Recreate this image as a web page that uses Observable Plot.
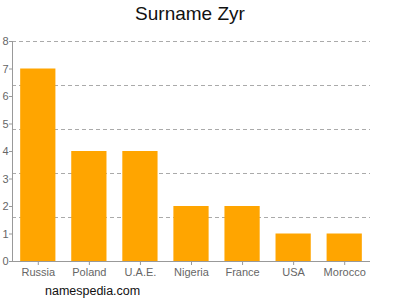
<!DOCTYPE html>
<html>
<head>
<meta charset="utf-8">
<script src="https://cdn.jsdelivr.net/npm/d3@7"></script>
<script src="https://cdn.jsdelivr.net/npm/@observablehq/plot@0.6"></script>
<style>
  html, body { margin: 0; padding: 0; background: #fff; }
  #wrap { position: relative; width: 400px; height: 300px; font-family: "Liberation Sans", Arial, sans-serif; }
  #title { position: absolute; left: 0; width: 380px; top: 3px; text-align: center; font-size: 19px; color: #111; }
  #caption { position: absolute; left: 45px; top: 284px; font-size: 12.5px; color: #111; }
</style>
</head>
<body>
<div id="wrap">
  <div id="chart"></div>
  <div id="title">Surname Zyr</div>
  <div id="caption">namespedia.com</div>
</div>
<script>
const countries = ["Russia", "Poland", "U.A.E.", "Nigeria", "France", "USA", "Morocco"];
const counts = [7, 4, 4, 2, 2, 1, 1];
const yTicks = [0, 1, 2, 3, 4, 5, 6, 7, 8];
const gridLines = [1.6, 3.2, 4.8, 6.4, 8];

const data = countries.map((c, i) => ({country: c, count: counts[i]}));

const chart = Plot.plot({
  width: 400,
  height: 300,
  marginTop: 41,
  marginBottom: 39,
  marginLeft: 12,
  marginRight: 30,
  style: {fontFamily: "Liberation Sans, Arial, sans-serif", fontSize: "11px", color: "#666", background: "#fff"},
  x: {domain: countries, paddingInner: 0.31, paddingOuter: 0.16, round: false, label: null},
  y: {domain: [0, 8], label: null},
  marks: [
    Plot.ruleY(gridLines, {stroke: "#aaa", strokeDasharray: "4,3", strokeWidth: 1}),
    Plot.barY(data, {x: "country", y: "count", fill: "#FFA500"}),
    Plot.frame({anchor: "left", stroke: "#999"}),
    Plot.ruleY([0], {stroke: "#999"}),
    Plot.axisY({ticks: yTicks, tickSize: 3, tickPadding: 1, stroke: "#999", fill: "#666", tickFormat: d3.format("d")}),
    Plot.axisX({tickSize: 4, tickPadding: 3, stroke: "#999", fill: "#666"})
  ]
});
document.getElementById("chart").appendChild(chart);
</script>
</body>
</html>
